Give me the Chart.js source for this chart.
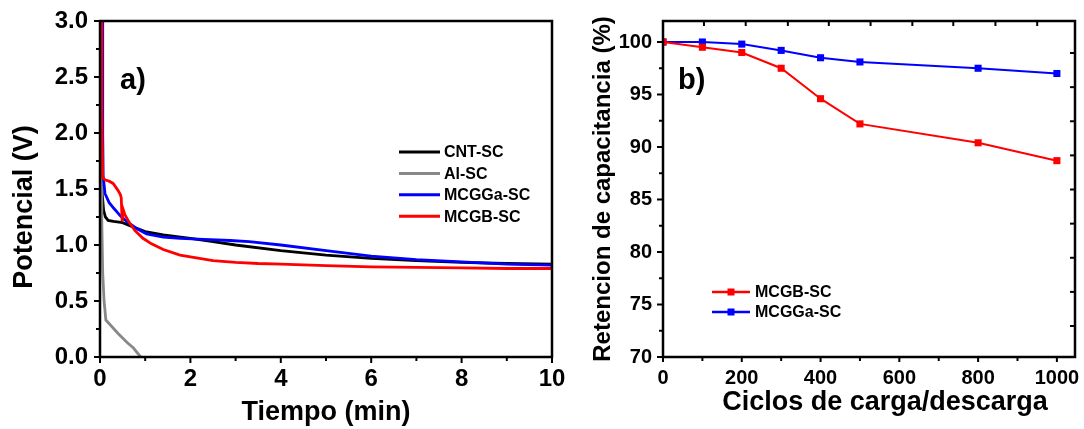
<!DOCTYPE html>
<html><head><meta charset="utf-8">
<script src="https://cdn.jsdelivr.net/npm/chart.js@4.4.1/dist/chart.umd.min.js"></script>
<style>
html,body{margin:0;padding:0;background:#fff;width:1084px;height:429px;overflow:hidden}
#a{position:absolute;left:0;top:0}
#b{position:absolute;left:562px;top:0}
</style></head><body>
<canvas id="a" width="580" height="429"></canvas>
<canvas id="b" width="522" height="429"></canvas>
<script>
// ---- Panel a) data: potential (V) vs time (min)
const cntT = [0.03,0.05,0.08,0.12,0.18,0.3,0.5,0.74,1.0,1.4,2.0,2.5,3.0,4.0,5.0,6.0,7.0,8.0,9.0,10.0];
const cntV = [1.6,1.45,1.31,1.25,1.22,1.21,1.20,1.16,1.12,1.09,1.06,1.03,1.0,0.95,0.91,0.88,0.86,0.845,0.835,0.83];
const alT = [0.02,0.03,0.04,0.06,0.09,0.13,0.22,0.4,0.6,0.74,0.9];
const alV = [2.3,1.6,1.2,0.75,0.5,0.33,0.29,0.21,0.13,0.08,0.0];
const mcggaT = [0.05,0.06,0.07,0.11,0.2,0.3,0.45,0.59,0.8,1.03,1.4,1.77,2.3,2.88,3.3,4.0,5.0,6.0,7.0,8.0,9.0,10.0];
const mcggaV = [3.0,2.0,1.62,1.46,1.38,1.33,1.26,1.21,1.15,1.10,1.07,1.06,1.05,1.04,1.03,1.0,0.95,0.90,0.87,0.85,0.83,0.82];
const mcgbT = [0.03,0.04,0.06,0.12,0.2,0.29,0.36,0.41,0.45,0.47,0.49,0.51,0.55,0.65,0.77,0.95,1.14,1.4,1.77,2.2,2.5,3.0,3.5,4.0,5.0,6.0,7.0,8.0,9.0,10.0];
const mcgbV = [3.0,2.2,1.6,1.58,1.57,1.55,1.51,1.48,1.45,1.42,1.21,1.32,1.27,1.2,1.13,1.06,1.01,0.96,0.91,0.88,0.86,0.845,0.835,0.83,0.815,0.805,0.80,0.795,0.79,0.79];
const timeTicks = [0,2,4,6,8,10];
const potTicks = [0,0.5,1.0,1.5,2.0,2.5,3.0];

// ---- Panel b) data: capacitance retention (%) vs cycles
const cycles = [0,100,200,300,400,500,800,1000];
const mcgbRet = [100,99.5,99.0,97.5,94.6,92.2,90.4,88.7];
const mcggaRet = [100,100,99.8,99.2,98.5,98.1,97.5,97.0];
const cycleTicks = [0,200,400,600,800,1000];
const retTicks = [70,75,80,85,90,95,100];

const FONT = "'Liberation Sans', Arial, sans-serif";
const pts = (xs, ys) => xs.map((x, i) => ({x, y: ys[i]}));
const mids = arr => arr.slice(1).map((v, i) => (v + arr[i]) / 2);

function seg(ctx, x1, y1, x2, y2) { ctx.beginPath(); ctx.moveTo(x1, y1); ctx.lineTo(x2, y2); ctx.stroke(); }

const framePlugin = {
  id: 'frame',
  afterDraw(chart, args, o) {
    const {ctx, chartArea: a, scales: {x, y}} = chart;
    ctx.save();
    ctx.strokeStyle = '#000';
    ctx.lineWidth = 2;
    (o.bottom || []).forEach(([v, len]) => { const p = x.getPixelForValue(v); seg(ctx, p, a.bottom, p, a.bottom + len); });
    (o.left || []).forEach(([v, len]) => { const p = y.getPixelForValue(v); seg(ctx, a.left, p, a.left - len, p); });
    (o.top || []).forEach(([v, len]) => { const p = x.getPixelForValue(v); seg(ctx, p, a.top, p, a.top + len); });
    (o.right || []).forEach(([v, len]) => { const p = y.getPixelForValue(v); seg(ctx, a.right, p, a.right - len, p); });
    ctx.lineWidth = 2.5;
    ctx.strokeRect(a.left, a.top, a.right - a.left, a.bottom - a.top);
    // panel label
    ctx.fillStyle = '#000';
    ctx.font = 'bold 29px ' + FONT;
    ctx.textBaseline = 'middle'; ctx.textAlign = 'left';
    ctx.fillText(o.panel.text, o.panel.x, o.panel.y);
    // extra axis titles
    (o.titles || []).forEach(t => {
      ctx.save();
      ctx.translate(t.x, t.y); ctx.rotate(t.rot || 0);
      ctx.font = 'bold ' + t.size + 'px ' + FONT;
      ctx.textAlign = 'center'; ctx.textBaseline = 'middle';
      ctx.fillText(t.text, 0, 0);
      ctx.restore();
    });
    // legend
    const L = o.legend;
    ctx.font = 'bold ' + L.size + 'px ' + FONT;
    ctx.textAlign = 'left'; ctx.textBaseline = 'middle';
    chart.data.datasets.forEach((ds, i) => {
      const yy = L.y + i * L.dy;
      ctx.strokeStyle = ds.borderColor; ctx.lineWidth = L.lw;
      seg(ctx, L.x1, yy, L.x2, yy);
      if (L.marker) {
        ctx.fillStyle = ds.borderColor;
        ctx.fillRect((L.x1 + L.x2) / 2 - 3.5, yy - 3.5, 7, 7);
      }
      ctx.fillStyle = '#000';
      ctx.fillText(ds.label, L.tx, yy + 1);
    });
    ctx.restore();
  }
};

const tickFont = s => ({family: FONT, size: s, weight: 'bold'});
const fitX = h => s => { s.height = h; s.paddingLeft = 0; s.paddingRight = 0; };
const fitY = w => s => { s.width = w; s.paddingTop = 0; s.paddingBottom = 0; };

// ---------- Chart a
const lineDs = (label, xs, ys, color, order) => ({
  label, data: pts(xs, ys), borderColor: color, backgroundColor: color,
  borderWidth: 2.8, pointRadius: 0, tension: 0, order
});
new Chart(document.getElementById('a'), {
  type: 'line',
  data: { datasets: [
    lineDs('CNT-SC', cntT, cntV, '#000000', 3),
    lineDs('Al-SC', alT, alV, '#888888', 2),
    lineDs('MCGGa-SC', mcggaT, mcggaV, '#0000ff', 1),
    lineDs('MCGB-SC', mcgbT, mcgbV, '#ff0000', 0)
  ]},
  options: {
    responsive: false, animation: false, devicePixelRatio: 1,
    layout: { padding: { top: 21, right: 28, left: 0, bottom: 0 } },
    plugins: {
      legend: {display: false}, tooltip: {enabled: false},
      frame: {
        bottom: timeTicks.map(v => [v, 6]).concat(mids(timeTicks).map(v => [v, 4])),
        left: potTicks.map(v => [v, 6]).concat(mids(potTicks).map(v => [v, 4])),
        panel: {text: 'a)', x: 120, y: 81},
        titles: [{text: 'Potencial (V)', x: 25, y: 207, rot: -Math.PI / 2, size: 27}],
        legend: {x1: 399, x2: 440, tx: 444, y: 152, dy: 21.4, size: 16, lw: 3}
      }
    },
    scales: {
      x: {
        type: 'linear', min: 0, max: 10,
        afterFit: fitX(72),
        afterBuildTicks: s => { s.ticks = timeTicks.map(v => ({value: v})); },
        grid: {display: false, drawTicks: false}, border: {display: false},
        ticks: {color: '#000', font: tickFont(24), padding: 8, maxRotation: 0, callback: v => String(v)},
        title: {display: true, text: 'Tiempo (min)', color: '#000', font: {family: FONT, size: 27, weight: 'bold', lineHeight: 1}, padding: {top: 0, bottom: 2.5}}
      },
      y: {
        type: 'linear', min: 0, max: 3,
        afterFit: fitY(100),
        afterBuildTicks: s => { s.ticks = potTicks.map(v => ({value: v})); },
        grid: {display: false, drawTicks: false}, border: {display: false},
        ticks: {color: '#000', font: tickFont(24), padding: 12, callback: v => v.toFixed(1)}
      }
    }
  },
  plugins: [framePlugin]
});

// ---------- Chart b
const markDs = (label, ys, color) => ({
  label, data: pts(cycles, ys), borderColor: color, backgroundColor: color,
  borderWidth: 2, pointStyle: 'rect', pointRadius: 5, pointBorderWidth: 0, tension: 0
});
const topTickVals = [104,210,317,421,527,633,737,844,950];
const rightTickVals = [98.95,95.7,92.45,89.2,85.95,82.7,79.45,76.2,72.95];
new Chart(document.getElementById('b'), {
  type: 'line',
  data: { datasets: [
    markDs('MCGB-SC', mcgbRet, '#ff0000'),
    markDs('MCGGa-SC', mcggaRet, '#0000ff')
  ]},
  options: {
    responsive: false, animation: false, devicePixelRatio: 1,
    layout: { padding: { top: 21, right: 9, left: 0, bottom: 0 } },
    plugins: {
      legend: {display: false}, tooltip: {enabled: false},
      frame: {
        bottom: cycleTicks.map(v => [v, 5]).concat(mids(cycleTicks).map(v => [v, 4])),
        left: retTicks.map(v => [v, 6]).concat(mids(retTicks).map(v => [v, 4])),
        top: topTickVals.map(v => [v, 5]),
        right: rightTickVals.map(v => [v, 5]),
        panel: {text: 'b)', x: 116, y: 81},
        titles: [{text: 'Ciclos de carga/descarga', x: 323, y: 403, rot: 0, size: 27}],
        legend: {x1: 150, x2: 188, tx: 193, y: 292, dy: 20, size: 16, lw: 2.5, marker: true}
      }
    },
    scales: {
      x: {
        type: 'linear', min: 0, max: 1046,
        afterFit: fitX(72),
        afterBuildTicks: s => { s.ticks = cycleTicks.map(v => ({value: v})); },
        grid: {display: false, drawTicks: false}, border: {display: false},
        ticks: {color: '#000', font: tickFont(20), padding: 9, maxRotation: 0, callback: v => String(v)}
      },
      y: {
        type: 'linear', min: 70, max: 102,
        afterFit: fitY(101),
        afterBuildTicks: s => { s.ticks = retTicks.map(v => ({value: v})); },
        grid: {display: false, drawTicks: false}, border: {display: false},
        ticks: {color: '#000', font: tickFont(20), padding: 11, callback: v => String(v)},
        title: {display: true, text: 'Retencion de capacitancia (%)', color: '#000', font: {family: FONT, size: 24, weight: 'bold', lineHeight: 1}, padding: {top: 29, bottom: 0}}
      }
    }
  },
  plugins: [framePlugin]
});
</script>
</body></html>
